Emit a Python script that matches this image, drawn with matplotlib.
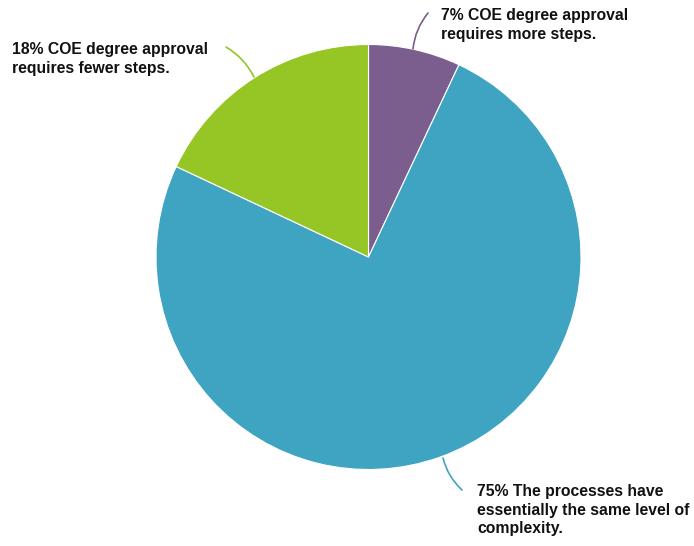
import matplotlib
matplotlib.use("Agg")
import matplotlib.pyplot as plt

labels = ["7% COE degree approval\nrequires more steps.",
          "75% The processes have\nessentially the same level of\ncomplexity.",
          "18% COE degree approval\nrequires fewer steps."]
values = [7, 75, 18]
colors = ["#7B5E8D", "#3FA3C2", "#95C626"]

W, H = 694, 546
fig = plt.figure(figsize=(W / 100, H / 100), dpi=100)
ax = fig.add_axes([0, 0, 1, 1])
cx, cy, r = 368.5, H - 257, 212.5
ax.pie(values, colors=colors, startangle=90, counterclock=False,
       center=(cx, cy), radius=r,
       wedgeprops=dict(edgecolor="white", linewidth=0.8))
ax.set_xlim(0, W)
ax.set_ylim(0, H)
ax.set_aspect("equal")
ax.axis("off")

font = dict(family="Liberation Sans", fontweight="bold", fontsize=11.3,
            color="#111111", va="top", ha="left", linespacing=1.3)

# leader lines (pixel coords, y from top)
leaders = [((413, 49), (428, 13), colors[0], -0.15),
           ((443, 458), (462, 490), colors[1], 0.15),
           ((254, 77), (226, 47), colors[2], 0.15)]
for (x0, y0), (x1, y1), c, rad in leaders:
    ax.annotate("", xy=(x1, H - y1), xytext=(x0, H - y0),
                arrowprops=dict(arrowstyle="-", color=c, lw=1.2,
                                connectionstyle=f"arc3,rad={rad}",
                                shrinkA=0, shrinkB=0))

text_pos = [(441, 8), (477, 484), (12, 42)]
for lab, (x, y) in zip(labels, text_pos):
    ax.text(x, H - y, lab, **font)

fig.savefig("out.png", dpi=100)
